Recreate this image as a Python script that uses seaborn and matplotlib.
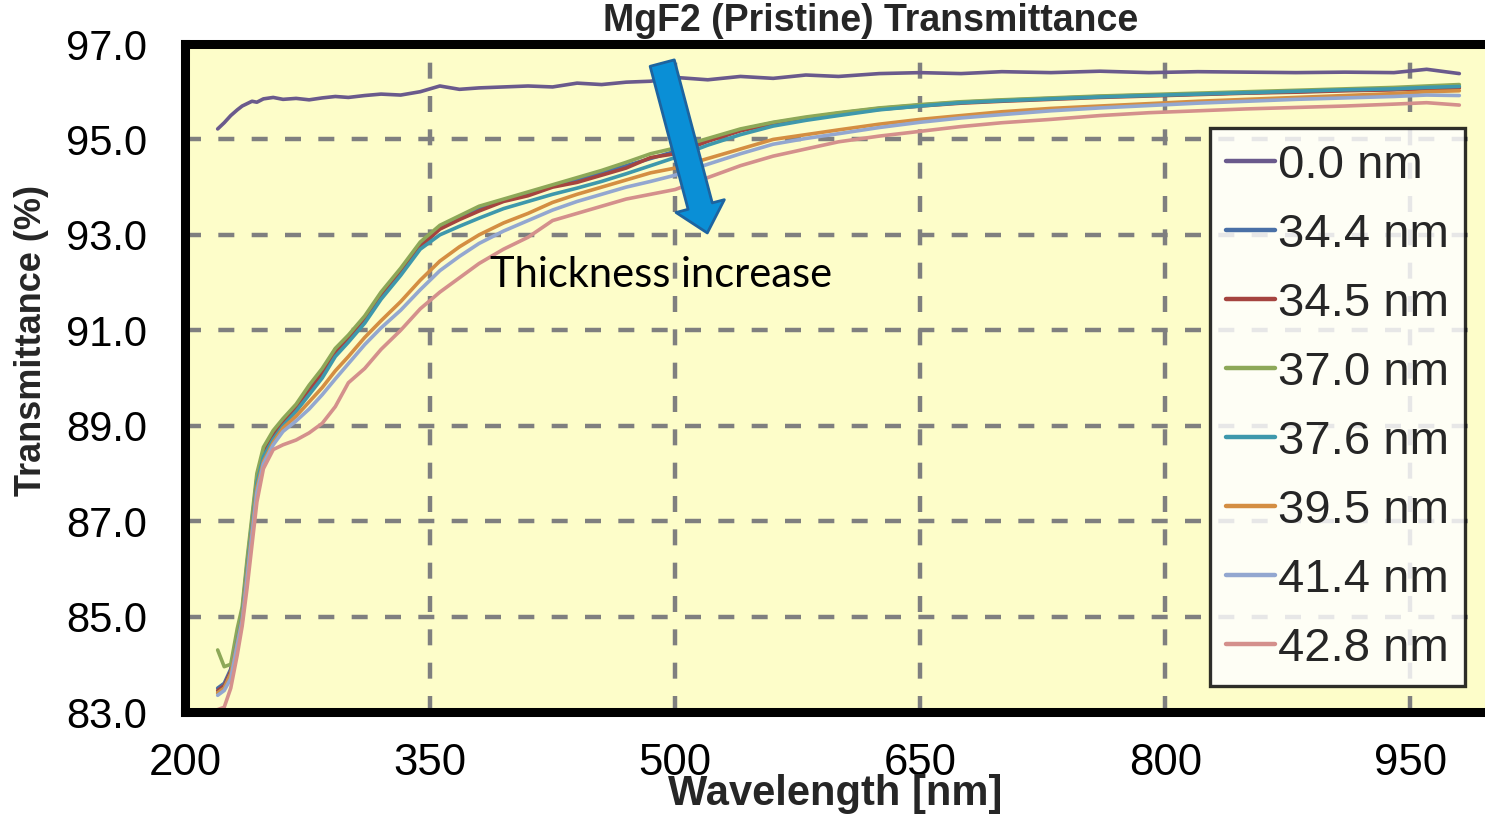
import matplotlib
matplotlib.use("Agg")
import matplotlib.pyplot as plt
from matplotlib.lines import Line2D
import pandas as pd
import seaborn as sns

# ---------------- data ----------------
wavelength = [220, 224, 228, 232, 235, 238, 241, 244, 248, 254, 260, 268, 276, 284, 292,
              300, 310, 320, 332, 344, 356, 368, 380, 395, 410, 425, 440, 455, 470, 485,
              500, 520, 540, 560, 580, 600, 625, 650, 675, 700, 730, 760, 790, 820, 850,
              880, 910, 940, 960, 980]

t_00_0 = [95.22, 95.35, 95.50, 95.62, 95.70, 95.75, 95.80, 95.78, 95.85, 95.88, 95.84, 95.86, 95.83, 95.87, 95.90,
          95.88, 95.92, 95.95, 95.93, 96.00, 96.12, 96.05, 96.08, 96.10, 96.12, 96.10, 96.18, 96.15, 96.20, 96.22,
          96.30, 96.25, 96.32, 96.28, 96.35, 96.32, 96.38, 96.40, 96.38, 96.42, 96.40, 96.43, 96.40, 96.42, 96.41,
          96.40, 96.41, 96.40, 96.47, 96.38]
t_34_4 = [83.50, 83.60, 83.90, 84.60, 85.10, 86.10, 87.00, 87.90, 88.45, 88.80, 89.10, 89.40, 89.80, 90.15, 90.60,
          90.85, 91.25, 91.75, 92.25, 92.80, 93.15, 93.35, 93.55, 93.72, 93.85, 94.02, 94.15, 94.30, 94.45, 94.60,
          94.75, 95.00, 95.20, 95.35, 95.45, 95.55, 95.65, 95.72, 95.78, 95.82, 95.86, 95.90, 95.93, 95.95, 95.98,
          96.00, 96.03, 96.05, 96.08, 96.10]
t_34_5 = [83.45, 83.55, 83.85, 84.55, 85.05, 86.05, 86.95, 87.85, 88.40, 88.78, 89.05, 89.35, 89.72, 90.10, 90.52,
          90.80, 91.20, 91.70, 92.22, 92.75, 93.12, 93.32, 93.50, 93.70, 93.82, 94.00, 94.10, 94.25, 94.40, 94.62,
          94.70, 94.96, 95.18, 95.33, 95.44, 95.53, 95.63, 95.70, 95.76, 95.80, 95.84, 95.88, 95.91, 95.94, 95.97,
          95.99, 96.02, 96.04, 96.06, 96.08]
t_37_0 = [84.30, 83.95, 84.00, 84.75, 85.20, 86.20, 87.10, 88.00, 88.55, 88.90, 89.15, 89.45, 89.85, 90.20, 90.62,
          90.90, 91.30, 91.80, 92.30, 92.85, 93.20, 93.40, 93.60, 93.75, 93.90, 94.05, 94.20, 94.35, 94.52, 94.70,
          94.82, 95.02, 95.22, 95.36, 95.47, 95.56, 95.66, 95.73, 95.79, 95.83, 95.87, 95.91, 95.94, 95.97, 96.00,
          96.03, 96.06, 96.09, 96.12, 96.15]
t_37_6 = [83.40, 83.50, 83.80, 84.50, 85.00, 86.00, 86.90, 87.80, 88.35, 88.72, 89.00, 89.30, 89.65, 90.00, 90.45,
          90.75, 91.15, 91.65, 92.15, 92.70, 93.00, 93.18, 93.35, 93.55, 93.70, 93.85, 93.98, 94.12, 94.28, 94.45,
          94.62, 94.88, 95.10, 95.28, 95.40, 95.50, 95.62, 95.70, 95.77, 95.81, 95.85, 95.89, 95.92, 95.95, 95.98,
          96.01, 96.04, 96.06, 96.09, 96.11]
t_39_5 = [83.40, 83.50, 83.80, 84.45, 84.95, 85.90, 86.80, 87.70, 88.25, 88.65, 88.95, 89.20, 89.50, 89.80, 90.15,
          90.45, 90.85, 91.20, 91.60, 92.05, 92.45, 92.75, 93.00, 93.25, 93.45, 93.68, 93.85, 94.00, 94.15, 94.30,
          94.40, 94.60, 94.80, 95.00, 95.10, 95.20, 95.32, 95.42, 95.50, 95.58, 95.65, 95.70, 95.75, 95.80, 95.84,
          95.88, 95.92, 95.96, 96.00, 96.02]
t_41_4 = [83.35, 83.45, 83.70, 84.40, 84.90, 85.80, 86.70, 87.60, 88.20, 88.60, 88.88, 89.10, 89.35, 89.65, 89.98,
          90.30, 90.70, 91.05, 91.42, 91.85, 92.25, 92.55, 92.82, 93.08, 93.30, 93.52, 93.70, 93.85, 94.00, 94.12,
          94.25, 94.48, 94.70, 94.90, 95.02, 95.12, 95.25, 95.36, 95.45, 95.52, 95.60, 95.66, 95.71, 95.76, 95.80,
          95.84, 95.87, 95.90, 95.93, 95.92]
t_42_8 = [83.05, 83.10, 83.50, 84.20, 84.80, 85.60, 86.50, 87.40, 88.10, 88.50, 88.60, 88.70, 88.85, 89.05, 89.40,
          89.90, 90.20, 90.60, 91.00, 91.45, 91.80, 92.10, 92.40, 92.70, 92.95, 93.30, 93.45, 93.60, 93.75, 93.85,
          93.95, 94.20, 94.45, 94.65, 94.80, 94.95, 95.07, 95.17, 95.27, 95.35, 95.42, 95.50, 95.56, 95.60, 95.64,
          95.67, 95.70, 95.74, 95.77, 95.72]

labels = ["0.0 nm", "34.4 nm", "34.5 nm", "37.0 nm", "37.6 nm", "39.5 nm", "41.4 nm", "42.8 nm"]
series = [t_00_0, t_34_4, t_34_5, t_37_0, t_37_6, t_39_5, t_41_4, t_42_8]
colors = ["#6A5A8C", "#4A70A6", "#A5443F", "#8DA858", "#3E98AC", "#D48E42", "#93A7D0", "#D4908C"]

x_ticks = [200, 350, 500, 650, 800, 950]
y_ticks = [83.0, 85.0, 87.0, 89.0, 91.0, 93.0, 95.0, 97.0]

title = "MgF2 (Pristine) Transmittance"
x_label = "Wavelength [nm]"
y_label = "Transmittance (%)"
note = "Thickness increase"

rows = []
for lab, vals in zip(labels, series):
    for w, v in zip(wavelength, vals):
        rows.append((w, v, lab))
df = pd.DataFrame(rows, columns=["Wavelength", "Transmittance", "Thickness"])

# ---------------- figure ----------------
sns.set_style("white")
plt.rcParams["font.family"] = ["Liberation Sans", "DejaVu Sans"]

W, H = 1485, 818
fig = plt.figure(figsize=(W / 100, H / 100), dpi=100)
ax_left, ax_right, ax_top, ax_bottom = 185, 1492, 44, 712
ax = fig.add_axes([ax_left / W, 1 - ax_bottom / H, (ax_right - ax_left) / W, (ax_bottom - ax_top) / H])
ax.set_facecolor("#FDFDC9")

sns.lineplot(data=df, x="Wavelength", y="Transmittance", hue="Thickness",
             hue_order=labels, palette=dict(zip(labels, colors)),
             linewidth=2.6, ax=ax, legend=False, estimator=None, sort=False)

ax.set_xlim(200, 1000)
ax.set_ylim(83, 97)
ax.set_xticks(x_ticks)
ax.set_yticks(y_ticks)
ax.set_yticklabels([f"{v:.1f}" for v in y_ticks])
ax.set_xticklabels([str(v) for v in x_ticks])

ax.set_axisbelow(True)
ax.grid(True, color="#7F7F7F", linewidth=3.2, dashes=(3.6, 3.9))

for side in ["left", "bottom", "top", "right"]:
    ax.spines[side].set_visible(True)
    ax.spines[side].set_color("black")
    ax.spines[side].set_linewidth(6.5)

ax.tick_params(axis="y", direction="in", length=10, width=3, labelsize=30, pad=27, colors="black")
ax.tick_params(axis="x", direction="in", length=10, width=3, labelsize=31.5, pad=22, colors="black")

ax.set_xlabel(x_label, fontsize=30, fontweight="bold")
ax.set_ylabel(y_label, fontsize=26, fontweight="bold")
ax.xaxis.set_label_coords((835 - ax_left) / (ax_right - ax_left), -(774 - ax_bottom) / (ax_bottom - ax_top))
ax.yaxis.set_label_coords(-(ax_left - 32) / (ax_right - ax_left), (ax_bottom - 341) / (ax_bottom - ax_top))
ax.xaxis.label.set_va("top")
ax.yaxis.label.set_va("center")

fig.text(871 / W, 1 - 21 / H, title, ha="center", va="center", fontsize=27, fontweight="bold")

# legend
handles = [Line2D([0], [0], color=c, lw=3.2) for c in colors]
leg = ax.legend(handles, labels, loc="upper left",
                bbox_to_anchor=(1210 / W, 1 - 128 / H), bbox_transform=fig.transFigure,
                fontsize=34, handlelength=1.05, handletextpad=0.06, labelspacing=0.53,
                borderpad=0.33, borderaxespad=0, frameon=True, fancybox=False,
                facecolor="white", edgecolor="black", framealpha=0.82)
leg.get_frame().set_linewidth(2.4)

# annotation arrow + text
ax.annotate("", xy=(519.7, 93.04), xytext=(492.1, 96.60), xycoords="data",
            arrowprops=dict(arrowstyle="simple,head_length=2.0,head_width=3.6,tail_width=1.8",
                            mutation_scale=10, fc="#0A8FD6", ec="#1D64A0", lw=2,
                            shrinkA=0, shrinkB=0))
fig.text(490 / W, 1 - 287 / H, note, ha="left", va="baseline", fontsize=30,
         family=["Lato", "DejaVu Sans"], color="black")

fig.savefig("out.png", dpi=100, facecolor="white")
